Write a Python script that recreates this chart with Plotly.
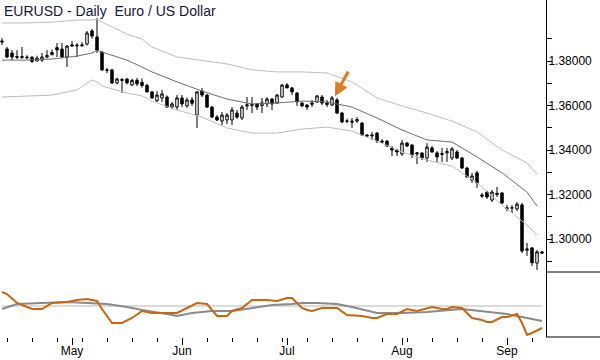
import plotly.graph_objects as go
import pandas as pd

# ---------------- data ----------------
dates = pd.bdate_range("2014-04-11", "2014-09-10")

opens = [1.3890, 1.3854, 1.3836, 1.3816, 1.3815, 1.3818, 1.3817, 1.3800, 1.3804, 1.3818,
         1.3828, 1.3860, 1.3854, 1.3818, 1.3867, 1.3872, 1.3868, 1.3876, 1.3935, 1.3908,
         1.3840, 1.3760, 1.3760, 1.3701, 1.3717, 1.3719, 1.3692, 1.3713, 1.3704, 1.3690,
         1.3661, 1.3622, 1.3634, 1.3638, 1.3593, 1.3593, 1.3634, 1.3598, 1.3625, 1.3557,
         1.3665, 1.3647, 1.3593, 1.3548, 1.3530, 1.3535, 1.3535, 1.3566, 1.3544, 1.3598,
         1.3600, 1.3607, 1.3600, 1.3607, 1.3629, 1.3611, 1.3638, 1.3692, 1.3679, 1.3656,
         1.3611, 1.3602, 1.3605, 1.3616, 1.3638, 1.3611, 1.3602, 1.3625, 1.3566, 1.3530,
         1.3530, 1.3530, 1.3521, 1.3467, 1.3463, 1.3476, 1.3440, 1.3440, 1.3409, 1.3400,
         1.3382, 1.3431, 1.3422, 1.3382, 1.3386, 1.3364, 1.3409, 1.3387, 1.3380, 1.3387,
         1.3364, 1.3391, 1.3364, 1.3319, 1.3265, 1.3297, 1.3198, 1.3211, 1.3175, 1.3205,
         1.3207, 1.3140, 1.3140, 1.3135, 1.3153, 1.2950, 1.2960, 1.2892, 1.2942]

highs = [1.3903, 1.3863, 1.3849, 1.3849, 1.3863, 1.3826, 1.3822, 1.3824, 1.3836, 1.3849,
         1.3852, 1.3881, 1.3881, 1.3872, 1.3890, 1.3881, 1.3885, 1.3935, 1.3944, 1.3993,
         1.3845, 1.3769, 1.3765, 1.3725, 1.3724, 1.3724, 1.3720, 1.3724, 1.3722, 1.3697,
         1.3665, 1.3665, 1.3670, 1.3645, 1.3616, 1.3647, 1.3647, 1.3636, 1.3638, 1.3665,
         1.3679, 1.3652, 1.3598, 1.3557, 1.3571, 1.3566, 1.3593, 1.3580, 1.3602, 1.3638,
         1.3638, 1.3611, 1.3634, 1.3638, 1.3634, 1.3652, 1.3697, 1.3701, 1.3683, 1.3661,
         1.3616, 1.3607, 1.3625, 1.3647, 1.3647, 1.3625, 1.3643, 1.3634, 1.3571, 1.3540,
         1.3544, 1.3548, 1.3526, 1.3472, 1.3481, 1.3481, 1.3449, 1.3445, 1.3418, 1.3405,
         1.3445, 1.3436, 1.3427, 1.3391, 1.3391, 1.3431, 1.3418, 1.3395, 1.3409, 1.3409,
         1.3413, 1.3400, 1.3369, 1.3324, 1.3297, 1.3306, 1.3207, 1.3216, 1.3220, 1.3234,
         1.3211, 1.3153, 1.3153, 1.3166, 1.3162, 1.2982, 1.2964, 1.2951, 1.2946]

lows = [1.3872, 1.3813, 1.3804, 1.3809, 1.3810, 1.3808, 1.3791, 1.3800, 1.3796, 1.3812,
        1.3826, 1.3818, 1.3813, 1.3773, 1.3863, 1.3818, 1.3865, 1.3870, 1.3900, 1.3836,
        1.3755, 1.3746, 1.3697, 1.3695, 1.3656, 1.3695, 1.3688, 1.3688, 1.3680, 1.3660,
        1.3630, 1.3616, 1.3616, 1.3589, 1.3585, 1.3580, 1.3593, 1.3590, 1.3598, 1.3499,
        1.3638, 1.3589, 1.3544, 1.3530, 1.3512, 1.3517, 1.3512, 1.3540, 1.3535, 1.3580,
        1.3566, 1.3580, 1.3566, 1.3593, 1.3580, 1.3607, 1.3634, 1.3679, 1.3647, 1.3598,
        1.3593, 1.3580, 1.3593, 1.3611, 1.3602, 1.3593, 1.3598, 1.3562, 1.3521, 1.3521,
        1.3499, 1.3521, 1.3463, 1.3458, 1.3445, 1.3431, 1.3431, 1.3413, 1.3373, 1.3373,
        1.3373, 1.3413, 1.3364, 1.3337, 1.3355, 1.3346, 1.3387, 1.3342, 1.3346, 1.3346,
        1.3355, 1.3360, 1.3315, 1.3275, 1.3252, 1.3229, 1.3185, 1.3180, 1.3166, 1.3189,
        1.3157, 1.3126, 1.3117, 1.3126, 1.2937, 1.2924, 1.2879, 1.2861, 1.2933]

closes = [1.3886, 1.3818, 1.3818, 1.3820, 1.3820, 1.3815, 1.3798, 1.3813, 1.3818, 1.3825,
          1.3838, 1.3850, 1.3818, 1.3867, 1.3872, 1.3868, 1.3872, 1.3926, 1.3912, 1.3849,
          1.3760, 1.3758, 1.3701, 1.3719, 1.3713, 1.3702, 1.3713, 1.3697, 1.3690, 1.3661,
          1.3634, 1.3647, 1.3652, 1.3593, 1.3607, 1.3634, 1.3607, 1.3625, 1.3610, 1.3661,
          1.3647, 1.3593, 1.3548, 1.3535, 1.3557, 1.3557, 1.3580, 1.3548, 1.3593, 1.3603,
          1.3605, 1.3593, 1.3612, 1.3629, 1.3607, 1.3647, 1.3692, 1.3679, 1.3661, 1.3616,
          1.3598, 1.3593, 1.3611, 1.3643, 1.3611, 1.3605, 1.3634, 1.3566, 1.3526, 1.3530,
          1.3526, 1.3537, 1.3467, 1.3463, 1.3467, 1.3440, 1.3436, 1.3418, 1.3400, 1.3391,
          1.3431, 1.3418, 1.3378, 1.3387, 1.3364, 1.3413, 1.3391, 1.3369, 1.3384, 1.3393,
          1.3405, 1.3364, 1.3319, 1.3279, 1.3283, 1.3252, 1.3193, 1.3189, 1.3211, 1.3200,
          1.3162, 1.3137, 1.3140, 1.3157, 1.2946, 1.2955, 1.2893, 1.2942, 1.2937]

# envelope (upper / middle / lower) read at selected bars
band_bars = [0, 5, 10, 15, 18, 19, 20, 25, 28, 30, 35, 40, 45, 50, 55, 60, 65, 70,
             75, 80, 85, 90, 95, 100, 105, 107]
band_upper = [1.3971, 1.3971, 1.3975, 1.3984, 1.3984, 1.3989, 1.3975, 1.3921, 1.3899,
              1.3863, 1.3818, 1.3804, 1.3787, 1.3760, 1.3751, 1.3751, 1.3746, 1.3706,
              1.3634, 1.3598, 1.3566, 1.3530, 1.3481, 1.3400, 1.3342, 1.3292]
band_middle = [1.3804, 1.3804, 1.3809, 1.3822, 1.3836, 1.3849, 1.3840, 1.3804, 1.3773,
               1.3751, 1.3706, 1.3665, 1.3629, 1.3607, 1.3611, 1.3620, 1.3616, 1.3593,
               1.3544, 1.3490, 1.3445, 1.3436, 1.3369, 1.3297, 1.3211, 1.3148]
band_lower = [1.3638, 1.3643, 1.3647, 1.3670, 1.3715, 1.3706, 1.3688, 1.3656, 1.3643,
              1.3620, 1.3580, 1.3548, 1.3499, 1.3476, 1.3476, 1.3494, 1.3503, 1.3485,
              1.3440, 1.3391, 1.3355, 1.3328, 1.3252, 1.3153, 1.3063, 1.3018]

# lower panel oscillator (orange) and its signal line (grey)
osc_bars = [0, 1, 3, 6, 8, 10, 13, 15, 17, 19, 20, 22, 24, 26, 28, 30, 35, 37, 39, 41,
            43, 45, 46, 48, 50, 53, 55, 57, 58, 60, 61, 62, 64, 67, 69, 72, 74, 75, 77,
            79, 81, 83, 85, 86, 88, 89, 90, 92, 94, 96, 97, 98, 100, 101, 103, 104, 105,
            106, 108]
osc_values = [14, 12, 3, -3, -3, 3, 4, 6, 7, 5, -3, -17, -17, -12, -5, -7, -7, -2, 3, 2,
              -10, -10, -5, -2, 6, 6, 5, 8, 8, -2, -4, -5, -2, -2, -9, -10, -12, -12, -8,
              -8, -3, -5, -2, -1, -3, -3, -1, -2, -12, -14, -16, -16, -11, -11, -8, -17,
              -29, -27, -22]
sig_bars = [0, 3, 8, 13, 17, 21, 25, 28, 33, 35, 38, 42, 46, 50, 54, 58, 60, 63, 67, 70,
            75, 80, 85, 92, 97, 101, 105, 108]
sig_values = [-3, 2, 3, 4, 3, 2, -1, -4, -8, -10, -7, -5, -5, -2, 1, 2, 3, 3, 2, -1, -7,
              -7, -6, -3, -6, -8, -12, -15]
osc_reference = 0

price_ticks = [1.30, 1.32, 1.34, 1.36, 1.38]
price_tick_labels = ["1.30000", "1.32000", "1.34000", "1.36000", "1.38000"]
price_minor_ticks = [1.29, 1.31, 1.33, 1.35, 1.37, 1.39]
month_labels = ["May", "Jun", "Jul", "Aug", "Sep"]
arrow_bar = 67
title_text = "EURUSD - Daily  Euro / US Dollar"

# ---------------- figure ----------------
bars = list(range(len(dates)))
month_idx = []
for m in [5, 6, 7, 8, 9]:
    month_idx.append(next(i for i, d in enumerate(dates) if d.month == m))
week_idx = [i for i, d in enumerate(dates) if d.weekday() == 0 and i not in month_idx]

fig = go.Figure()

line_light = "#bdbdbd"
line_dark = "#6e6e6e"
fig.add_trace(go.Scatter(x=band_bars, y=band_upper, mode="lines",
                         line=dict(color=line_light, width=1), hoverinfo="skip"))
fig.add_trace(go.Scatter(x=band_bars, y=band_lower, mode="lines",
                         line=dict(color=line_light, width=1), hoverinfo="skip"))
fig.add_trace(go.Scatter(x=band_bars, y=band_middle, mode="lines",
                         line=dict(color=line_dark, width=1), hoverinfo="skip"))

fig.add_trace(go.Candlestick(
    x=bars, open=opens, high=highs, low=lows, close=closes,
    increasing=dict(line=dict(color="black", width=1), fillcolor="white"),
    decreasing=dict(line=dict(color="black", width=1), fillcolor="black"),
    whiskerwidth=0, hoverinfo="skip"))

fig.add_trace(go.Scatter(x=[bars[0], bars[-1]], y=[osc_reference, osc_reference],
                         mode="lines", line=dict(color="#b8b8b8", width=1),
                         yaxis="y2", hoverinfo="skip"))
fig.add_trace(go.Scatter(x=sig_bars, y=sig_values, mode="lines",
                         line=dict(color="#8a8a8a", width=2), yaxis="y2", hoverinfo="skip"))
fig.add_trace(go.Scatter(x=osc_bars, y=osc_values, mode="lines",
                         line=dict(color="#c8650f", width=2), yaxis="y2", hoverinfo="skip"))

split = 65 / 337
font = dict(family="Liberation Sans, Arial, sans-serif", size=12, color="#000000")

fig.update_layout(
    width=600, height=360,
    margin=dict(l=0, r=54, t=0, b=23, autoexpand=False),
    paper_bgcolor="white", plot_bgcolor="white",
    showlegend=False, hovermode=False,
    font=font,
    xaxis=dict(
        range=[-0.4, 108.8], anchor="y2", showgrid=False, zeroline=False,
        showline=False, rangeslider=dict(visible=False), automargin=False,
        tickmode="array", tickvals=month_idx, ticktext=month_labels,
        ticks="outside", ticklen=7, tickcolor="black", tickwidth=1,
        minor=dict(tickmode="array", tickvals=week_idx, ticks="outside",
                   ticklen=4, tickcolor="black", tickwidth=1, showgrid=False),
        tickfont=font, ticklabelstandoff=-4,
    ),
    yaxis=dict(
        domain=[split, 1], range=[1.28517, 1.40742], side="right", anchor="x",
        showgrid=False, zeroline=False, showline=True, linecolor="black", linewidth=1,
        tickmode="array", tickvals=price_ticks, ticktext=price_tick_labels,
        ticks="outside", ticklen=5, tickcolor="black", automargin=False,
        minor=dict(tickmode="array", tickvals=price_minor_ticks, ticks="outside",
                   ticklen=5, tickcolor="black", showgrid=False),
        tickfont=font, ticklabelstandoff=-6,
    ),
    yaxis2=dict(
        domain=[0, split], range=[-31, 34], side="right", anchor="x",
        showgrid=False, zeroline=False, showline=True, linecolor="black", linewidth=1,
        showticklabels=False, ticks="", automargin=False,
    ),
)

# separators on the price scale area
for yv in [split, 0]:
    fig.add_shape(type="line", xref="paper", yref="paper", x0=1, x1=600 / 546,
                  y0=yv, y1=yv, line=dict(color="black", width=1))

fig.add_annotation(xref="paper", yref="paper", x=0.004, y=1, xanchor="left",
                   yanchor="top", yshift=-1, text=title_text, showarrow=False,
                   font=dict(family="Liberation Sans, Arial, sans-serif", size=14,
                             color="#14143a"))

fig.add_annotation(x=arrow_bar, y=highs[arrow_bar], xref="x", yref="y",
                   ax=15, ay=-28, xshift=-3, showarrow=True, arrowhead=2,
                   arrowsize=0.9, arrowwidth=3, arrowcolor="#e07a1e", standoff=2,
                   text="")

fig.write_html("out.html",
               config={"displayModeBar": False, "staticPlot": True},
               post_script="document.body.style.margin='0px';"
                           "document.body.style.overflow='hidden';")
